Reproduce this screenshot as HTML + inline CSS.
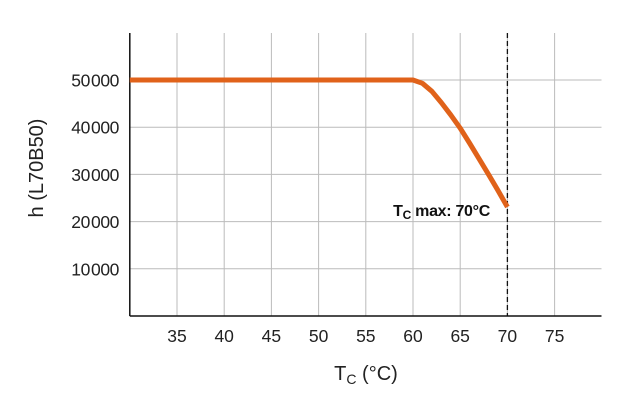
<!DOCTYPE html>
<html><head><meta charset="utf-8"><style>
body{margin:0;background:#fff;}
svg{display:block;font-family:"Liberation Sans",Arial,sans-serif;}
</style></head><body>
<svg id="chart" width="638" height="402"></svg>
<script>
const xTicks=[35,40,45,50,55,60,65,70,75];
const yTicks=[10000,20000,30000,40000,50000];
const yTickLabels=["10\u200a000","20\u200a000","30\u200a000","40\u200a000","50\u200a000"];
const tempX=[30,60,61,62,63,64,65,66,67,68,69,70];
const hoursY=[50000,50000,49300,47600,45200,42600,39800,36600,33300,30000,26600,23100];
const tcMax=70;
const svg=document.getElementById('chart');
const NS='http://www.w3.org/2000/svg';
const L=129.8,R=601.5,T=33,B=316;
const xs=v=>L+(v-30)*(47.2/5);
const ys=v=>B-v*(47.2/10000);
function mk(tag,attrs,name){const e=document.createElementNS(NS,tag);for(const k in attrs)e.setAttribute(k,attrs[k]);


svg.appendChild(e);return e;}
xTicks.forEach(t=>{mk('line',{x1:xs(t),x2:xs(t),y1:T,y2:B,stroke:'#bbb','stroke-width':1},'x-gridline');
const tx=mk('text',{x:xs(t),y:342,'text-anchor':'middle','font-size':17.5,fill:'#222'},'x-tick-label');tx.textContent=t;});
yTicks.forEach((t,i)=>{mk('line',{x1:L,x2:R,y1:ys(t),y2:ys(t),stroke:'#bbb','stroke-width':1},'y-gridline');
const tx=mk('text',{x:119,y:ys(t)+6.5,'text-anchor':'end','font-size':17.5,'letter-spacing':'-0.4',fill:'#222'},'y-tick-label');tx.textContent=yTickLabels[i];});
mk('line',{x1:L,x2:L,y1:T,y2:B,stroke:'#111','stroke-width':1.5},'y-axis');
mk('line',{x1:L,x2:R,y1:B,y2:B,stroke:'#111','stroke-width':1.5},'x-axis');
mk('line',{x1:xs(tcMax),x2:xs(tcMax),y1:T,y2:B,stroke:'#111','stroke-width':1.3,'stroke-dasharray':'5,3'},'tc-max-line');
let d='';tempX.forEach((x,i)=>{d+=(i?'L':'M')+xs(x)+','+ys(hoursY[i]);});
mk('path',{d:d,fill:'none',stroke:'#e0621a','stroke-width':5,'stroke-linejoin':'round','stroke-linecap':'butt'},'lifetime-curve');
const lab=mk('text',{x:490,y:216,'text-anchor':'end','font-size':16,'font-weight':'bold','letter-spacing':'-0.3',fill:'#111'},'tc-max-label');
lab.innerHTML='T<tspan font-size="12" dy="3">C</tspan><tspan dy="-3"> max: 70°C</tspan>';
const yt=mk('text',{x:0,y:0,'text-anchor':'middle','font-size':20,fill:'#222',transform:'translate(43,168) rotate(-90)'},'y-axis-title');
yt.textContent='h (L70B50)';
const xt=mk('text',{x:366,y:380,'text-anchor':'middle','font-size':20,fill:'#222'},'x-axis-title');
xt.innerHTML='T<tspan font-size="14" dy="4">C</tspan><tspan dy="-4"> (°C)</tspan>';
</script>
</body></html>
